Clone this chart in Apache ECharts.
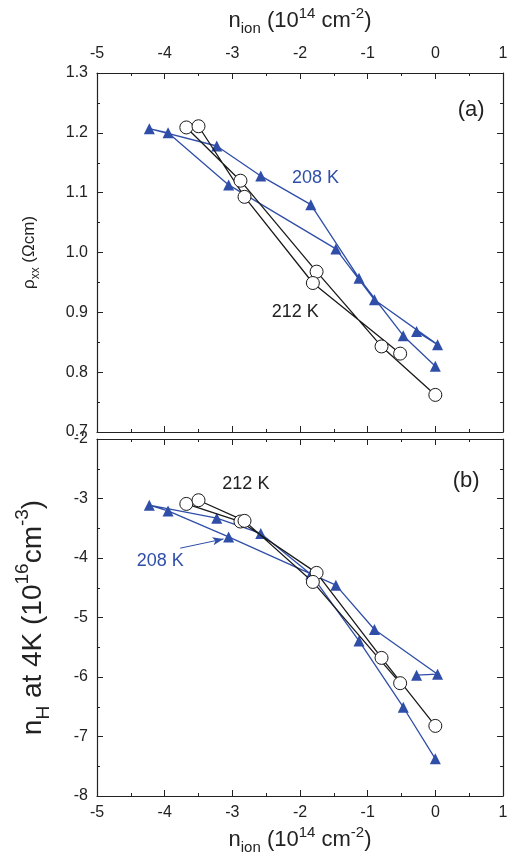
<!DOCTYPE html>
<html><head><meta charset="utf-8">
<script src="https://cdn.jsdelivr.net/npm/echarts@6/dist/echarts.min.js"></script>
<style>html,body{margin:0;padding:0;background:#fff}#c{width:517px;height:856px}</style>
</head><body><div id="c"></div>
<script>
// ---- data ----
const xTicks = [-5, -4, -3, -2, -1, 0, 1];
const rhoTicks = [0.7, 0.8, 0.9, 1.0, 1.1, 1.2, 1.3];
const nHTicks = [-8, -7, -6, -5, -4, -3, -2];

const nIon212 = [0.0, -0.795, -1.755, -2.88, -3.68, -3.50, -2.82, -1.81, -0.52];
const rho212  = [0.762, 0.843, 0.968, 1.120, 1.209, 1.211, 1.093, 0.949, 0.831];
const nH212   = [-6.822, -5.679, -4.250, -3.387, -3.091, -3.029, -3.376, -4.402, -6.104];

const nIon208 = [0.0, -0.474, -1.128, -1.84, -2.58, -3.23, -4.227, -3.95, -3.055, -1.47, -0.90, 0.033, -0.277];
const rho208  = [0.810, 0.861, 0.957, 1.080, 1.128, 1.178, 1.207, 1.200, 1.113, 1.006, 0.921, 0.846, 0.868];
const nH208   = [-7.376, -6.508, -5.393, -4.272, -3.588, -3.331, -3.113, -3.208, -3.645, -4.457, -5.202, -5.953, -5.970];

// annotation anchors (data coordinates)
const notesA = [
  {text: '208 K', x: -1.77, y: 1.125, color: 'blue'},
  {text: '212 K', x: -2.07, y: 0.900, color: 'black'},
  {text: '(a)',   x: 0.53,  y: 1.238, color: 'black', big: true}
];
const notesB = [
  {text: '212 K', x: -2.80, y: -2.751, color: 'black'},
  {text: '(b)',   x: 0.456, y: -2.709, color: 'black', big: true},
  {text: '208 K', x: -4.065, y: -4.054, color: 'blue'}
];
const arrowB = [[-3.77, -3.835], [-3.13, -3.680]];

// ---- styles ----
const BLUE = '#2F4EA8';
const BLACK = '#1a1a1a';
const FONT = 'Liberation Sans, Arial, Helvetica, sans-serif';
const zip = (a, b) => a.map((v, i) => [v, b[i]]);

function mkRich(big, small, lh) {
  return {
    b: {fontSize: big, fontFamily: FONT, color: '#222', lineHeight: lh},
    s: {fontSize: small, fontFamily: FONT, color: '#222', lineHeight: small, verticalAlign: 'bottom'},
    p: {fontSize: small, fontFamily: FONT, color: '#222', lineHeight: small, verticalAlign: 'top'}
  };
}
const richX = mkRich(22, 15, 30);
const richRho = mkRich(17, 12, 26);
const richNH = mkRich(28, 19, 40);
const nIonName = '{b|n}{s|ion}{b| (10}{p|14}{b| cm}{p|-2}{b|)}';

function xAx(grid, pos, labels, name) {
  return {
    type: 'value', gridIndex: grid, position: pos, min: -5, max: 1, interval: 1,
    axisLine: {show: true, onZero: false, lineStyle: {color: '#222', width: 1.2}},
    axisTick: {show: true, inside: true, length: 6, lineStyle: {color: '#222'}},
    minorTick: {show: true, splitNumber: 2, length: 3, lineStyle: {color: '#222'}},
    splitLine: {show: false},
    axisLabel: {show: labels, fontSize: 16, fontFamily: FONT, color: '#222', margin: pos === 'top' ? 11 : 9},
    name: name || '', nameLocation: 'middle', nameGap: pos === 'top' ? 37 : 29,
    nameTextStyle: {rich: richX}
  };
}
function yAx(grid, pos, min, max, labels, name, dec, rich, gap) {
  return {
    type: 'value', gridIndex: grid, position: pos, min: min, max: max, interval: dec ? 0.1 : 1,
    axisLine: {show: true, onZero: false, lineStyle: {color: '#222', width: 1.2}},
    axisTick: {show: true, inside: true, length: 6, lineStyle: {color: '#222'}},
    minorTick: {show: true, splitNumber: 2, length: 3, lineStyle: {color: '#222'}},
    splitLine: {show: false},
    axisLabel: {show: labels, fontSize: 16, fontFamily: FONT, color: '#222', margin: 9,
      formatter: v => dec ? v.toFixed(1) : String(v)},
    name: name || '', nameLocation: 'middle', nameGap: gap || 50, nameRotate: 90,
    nameTextStyle: {rich: rich || richRho}
  };
}

const chart = echarts.init(document.getElementById('c'), null, {renderer: 'canvas'});
const option = {
  backgroundColor: '#fff',
  animation: false,
  grid: [
    {left: 97, top: 73, width: 406, height: 359, containLabel: false, outerBoundsMode: 'none'},
    {left: 97, top: 439, width: 406, height: 357, containLabel: false, outerBoundsMode: 'none'}
  ],
  xAxis: [
    xAx(0, 'top', true, nIonName),
    xAx(0, 'bottom', false),
    xAx(1, 'bottom', true, nIonName),
    xAx(1, 'top', false)
  ],
  yAxis: [
    yAx(0, 'left', 0.7, 1.3, true, '{b|ρ}{s|xx}{b| (Ωcm)}', true, richRho, 55),
    yAx(0, 'right', 0.7, 1.3, false, '', true),
    yAx(1, 'left', -8, -2, true, '{b|n}{s|H}{b| at 4K (10}{p|16}{b|cm}{p|-3}{b|)}', false, richNH, 44),
    yAx(1, 'right', -8, -2, false, '', false)
  ],
  series: [
    {type: 'line', xAxisIndex: 0, yAxisIndex: 0, data: zip(nIon208, rho208),
     symbol: 'triangle', symbolSize: 11, lineStyle: {color: BLUE, width: 1.3},
     itemStyle: {color: BLUE}, z: 2},
    {type: 'line', xAxisIndex: 2, yAxisIndex: 2, data: zip(nIon208, nH208),
     symbol: 'triangle', symbolSize: 11, lineStyle: {color: BLUE, width: 1.3},
     itemStyle: {color: BLUE}, z: 2,
     markLine: {silent: true, symbol: ['none', 'arrow'], symbolSize: [6, 11],
       lineStyle: {color: BLUE, width: 1, type: 'solid'}, label: {show: false},
       data: [[{coord: arrowB[0]}, {coord: arrowB[1]}]]}},
    {type: 'line', xAxisIndex: 0, yAxisIndex: 0, data: zip(nIon212, rho212),
     symbol: 'circle', symbolSize: 13, lineStyle: {color: BLACK, width: 1.3},
     itemStyle: {color: '#fff', borderColor: BLACK, borderWidth: 1}, z: 3},
    {type: 'line', xAxisIndex: 2, yAxisIndex: 2, data: zip(nIon212, nH212),
     symbol: 'circle', symbolSize: 13, lineStyle: {color: BLACK, width: 1.3},
     itemStyle: {color: '#fff', borderColor: BLACK, borderWidth: 1}, z: 3}
  ]
};
chart.setOption(option);

function noteGraphics(notes, xi, yi) {
  return notes.map(n => {
    const p = chart.convertToPixel({xAxisIndex: xi, yAxisIndex: yi}, [n.x, n.y]);
    return {type: 'text', x: p[0], y: p[1], z: 10,
      style: {text: n.text, fill: n.color === 'blue' ? BLUE : '#222',
        font: (n.big ? '22px ' : '18px ') + FONT, align: 'center', verticalAlign: 'middle'}};
  });
}
chart.setOption({graphic: noteGraphics(notesA, 0, 0).concat(noteGraphics(notesB, 2, 2))});
</script></body></html>
